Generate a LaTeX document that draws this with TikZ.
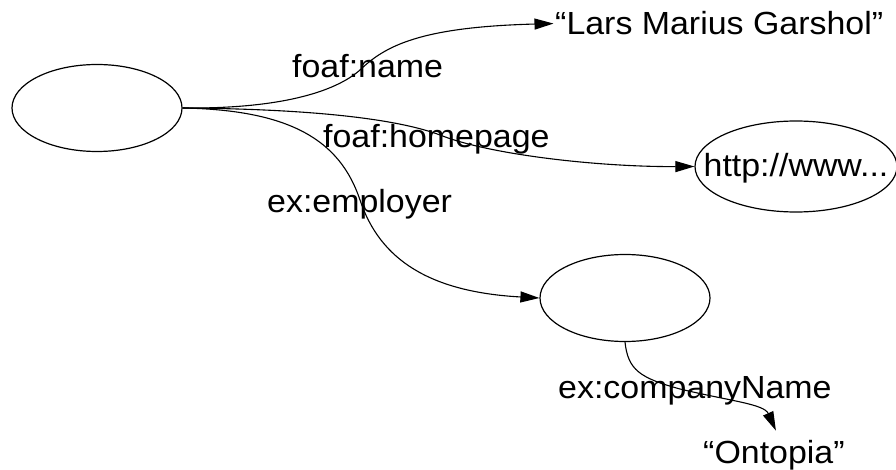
\documentclass[tikz,border=0pt]{standalone}
\usepackage{fontspec}
\setmainfont{Liberation Sans}[FakeStretch=1.06]
\usetikzlibrary{shapes.geometric,arrows.meta,calc}

\begin{document}
\begin{tikzpicture}[x=1pt,y=-1pt,
  every node/.style={font=\fontsize{32}{38}\selectfont},
  blank/.style={draw, ellipse, line width=1.2pt, inner sep=0pt,
                minimum width=170pt, minimum height=87pt},
  rel/.style={draw, line width=1.1pt, -{Triangle[length=19pt,width=11pt]}},
  txt/.style={inner sep=0pt, anchor=base west}]
\useasboundingbox (0,0) rectangle (896,470);

% resources
\node[blank] (s) at (97,108) {};
\node[blank] (emp) at (625,298) {};
\node[blank, minimum width=202pt, minimum height=91pt] (hp) at (796,166.5) {};
\node[anchor=base, inner sep=0pt] (hpt) at (796,177) {http://www...};

% literals
\node[txt, inner sep=1.5pt] (name) at (553.5,35) {“Lars Marius Garshol”};
\node[txt] (ont) at (703,463) {“Ontopia”};

% property labels
\node[txt] (lname) at (292,78) {foaf:name};
\node[txt] (lhp) at (323,148) {foaf:homepage};
\node[txt] (lemp) at (267,213) {ex:employer};
\node[txt] (lcn) at (558,398) {ex:companyName};

% properties
\draw[rel] (s.east) .. controls (280,109) and (335,92) .. (360,70)
  .. controls (385,46) and (420,27) .. (name.west);
\draw[rel] (s.east) .. controls (320,109) and (400,120) .. (440,135)
  .. controls (490,155) and (600,167) .. (hp.west);
\draw[rel] (s.east) .. controls (290,110) and (340,140) .. (360,200)
  .. controls (380,260) and (430,292) .. (emp.west);
\draw[rel] (emp.south) .. controls (628,370) and (640,378) .. (680,389)
  .. controls (730,401) and (764,404) .. ([xshift=2pt,yshift=9pt]ont.north);
\end{tikzpicture}
\end{document}
